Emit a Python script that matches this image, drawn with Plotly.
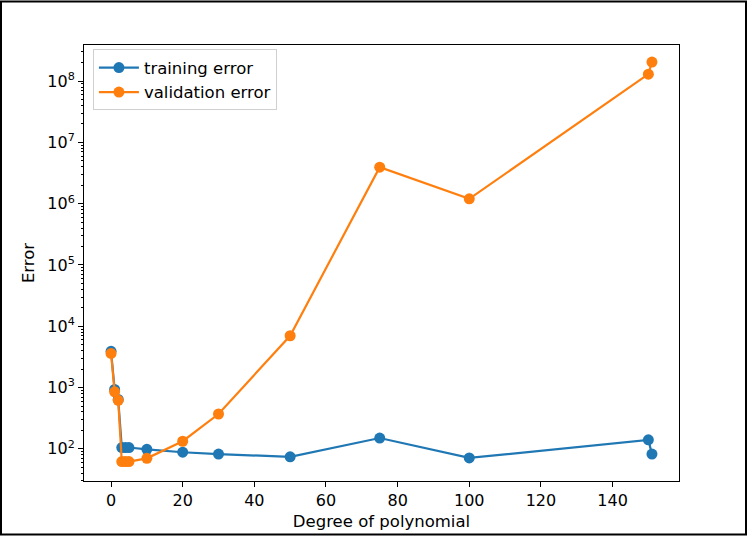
import plotly.graph_objects as go

degrees = [0, 1, 2, 3, 4, 5, 10, 20, 30, 50, 75, 100, 150, 151]
training_error = [3900, 930, 640, 105, 105, 105, 98, 88, 82, 74, 150, 71, 140, 82]
validation_error = [3600, 850, 620, 62, 62, 62, 70, 133, 370, 7000, 3.95e6, 1.2e6, 1.3e8, 2.05e8]
ytick_vals = [1e2, 1e3, 1e4, 1e5, 1e6, 1e7, 1e8]
ytick_text = ["10<sup>2</sup>", "10<sup>3</sup>", "10<sup>4</sup>", "10<sup>5</sup>",
              "10<sup>6</sup>", "10<sup>7</sup>", "10<sup>8</sup>"]
xtick_vals = [0, 20, 40, 60, 80, 100, 120, 140]
minor_vals = [m * 10 ** e for e in range(1, 9) for m in range(2, 10)]

W, H = 747, 540
L, R, T, B = 84, 68, 45, 55
pw, ph = W - L - R, H - T - B

fig = go.Figure()
fig.add_trace(go.Scatter(x=degrees, y=training_error, mode="lines+markers", name="training error",
                         line=dict(color="#1f77b4", width=2.2),
                         marker=dict(size=11, color="#1f77b4")))
fig.add_trace(go.Scatter(x=degrees, y=validation_error, mode="lines+markers", name="validation error",
                         line=dict(color="#ff7f0e", width=2.2),
                         marker=dict(size=11, color="#ff7f0e")))

font = "DejaVu Sans"
fig.update_layout(
    width=W, height=H, autosize=False,
    margin=dict(l=L, r=R, t=T, b=B),
    paper_bgcolor="white", plot_bgcolor="white",
    font=dict(family=font, size=16, color="black"),
    showlegend=True,
    legend=dict(x=0.015, y=0.99, xanchor="left", yanchor="top",
                bgcolor="rgba(255,255,255,0.8)", bordercolor="#d0d0d0", borderwidth=1,
                font=dict(size=16.5), itemwidth=40, tracegroupgap=0),
    xaxis=dict(range=[-7.55, 158.55], tickvals=xtick_vals, showgrid=False, zeroline=False,
               showline=True, linecolor="black", linewidth=1, mirror=True,
               ticks="outside", ticklen=5, tickcolor="black",
               tickfont=dict(size=16),
               title=dict(text="Degree of polynomial", font=dict(size=16.5), standoff=6)),
    yaxis=dict(type="log", range=[1.475, 8.59], tickvals=ytick_vals, ticktext=ytick_text,
               showgrid=False, zeroline=False,
               showline=True, linecolor="black", linewidth=1, mirror=True,
               ticks="outside", ticklen=5, tickcolor="black",
               tickfont=dict(size=16),
               minor=dict(tickvals=minor_vals, ticks="outside", ticklen=2.5,
                          tickcolor="black", showgrid=False),
               title=dict(text="Error", font=dict(size=16.5), standoff=8)),
)

fig.add_shape(type="rect", xref="paper", yref="paper",
              x0=(1 - L) / pw, x1=(W - 1 - L) / pw,
              y0=(1 - B) / ph, y1=(H - 1 - B) / ph,
              line=dict(color="black", width=2), layer="above")

fig.write_html("out.html",
               config={"displayModeBar": False, "responsive": False},
               default_width="747px", default_height="540px",
               post_script="document.body.style.margin='0';document.body.style.padding='0';"
                           "document.body.style.overflow='hidden';")
